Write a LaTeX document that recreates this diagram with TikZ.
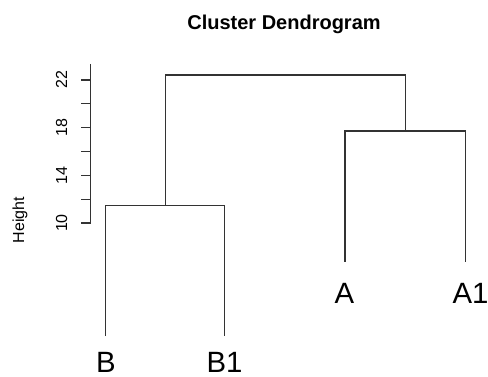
\documentclass[tikz,border=0pt]{standalone}
\usepackage{fontspec}
\setmainfont{Liberation Sans}
\begin{document}
\begin{tikzpicture}[x=0.75pt,y=-0.75pt,
  link/.style={draw=black!80,line width=0.9pt},
  axisline/.style={draw=black!80,line width=0.8pt},
  leaflabel/.style={anchor=north,inner sep=0pt,font=\fontsize{22}{24}\selectfont},
  ticklabel/.style={rotate=90,anchor=base,inner sep=0pt,font=\fontsize{12}{14}\selectfont},
  titlelabel/.style={anchor=base,inner sep=0pt,font=\fontsize{15}{17}\selectfont\bfseries},
]
\useasboundingbox (0,0) rectangle (488,377);
% title
\node[titlelabel] (title) at (284,29.8) {Cluster Dendrogram};
% axis label
\node[ticklabel] (ylab) at (24,220) {Height};
% axis
\coordinate (axtop) at (90.5,64);
\coordinate (axbot) at (90.5,223);
\draw[axisline] (axtop) -- (axbot);
\foreach \v in {10,12,...,22} {
  \coordinate (t\v) at (90.5,{223-(\v-10)*11.917});
  \coordinate (s\v) at (80.5,{223-(\v-10)*11.917});
  \draw[axisline] (t\v) -- (s\v);
}
\foreach \v in {10,14,18,22} {
  \node[ticklabel] (n\v) at (67,{223-(\v-10)*11.917}) {\v};
}
% leaves
\coordinate (B) at (105.7,336);
\coordinate (B1) at (224.7,336);
\coordinate (A) at (345,262);
\coordinate (A1) at (465.3,262);
% merges
\coordinate (mB) at (165.2,205.7);
\coordinate (mA) at (405.15,131);
\coordinate (top) at (285,75);
\draw[link] (B) |- (mB) -| (B1);
\draw[link] (A) |- (mA) -| (A1);
\draw[link] (mB) -- (mB |- top) -- (mA |- top) -- (mA);
% leaf labels
\node[leaflabel] (lB) at (106,352.5) {B};
\node[leaflabel] (lB1) at (224.5,352.5) {B1};
\node[leaflabel] (lA) at (344.5,283.3) {A};
\node[leaflabel] (lA1) at (470.5,283.3) {A1};
\end{tikzpicture}
\end{document}
